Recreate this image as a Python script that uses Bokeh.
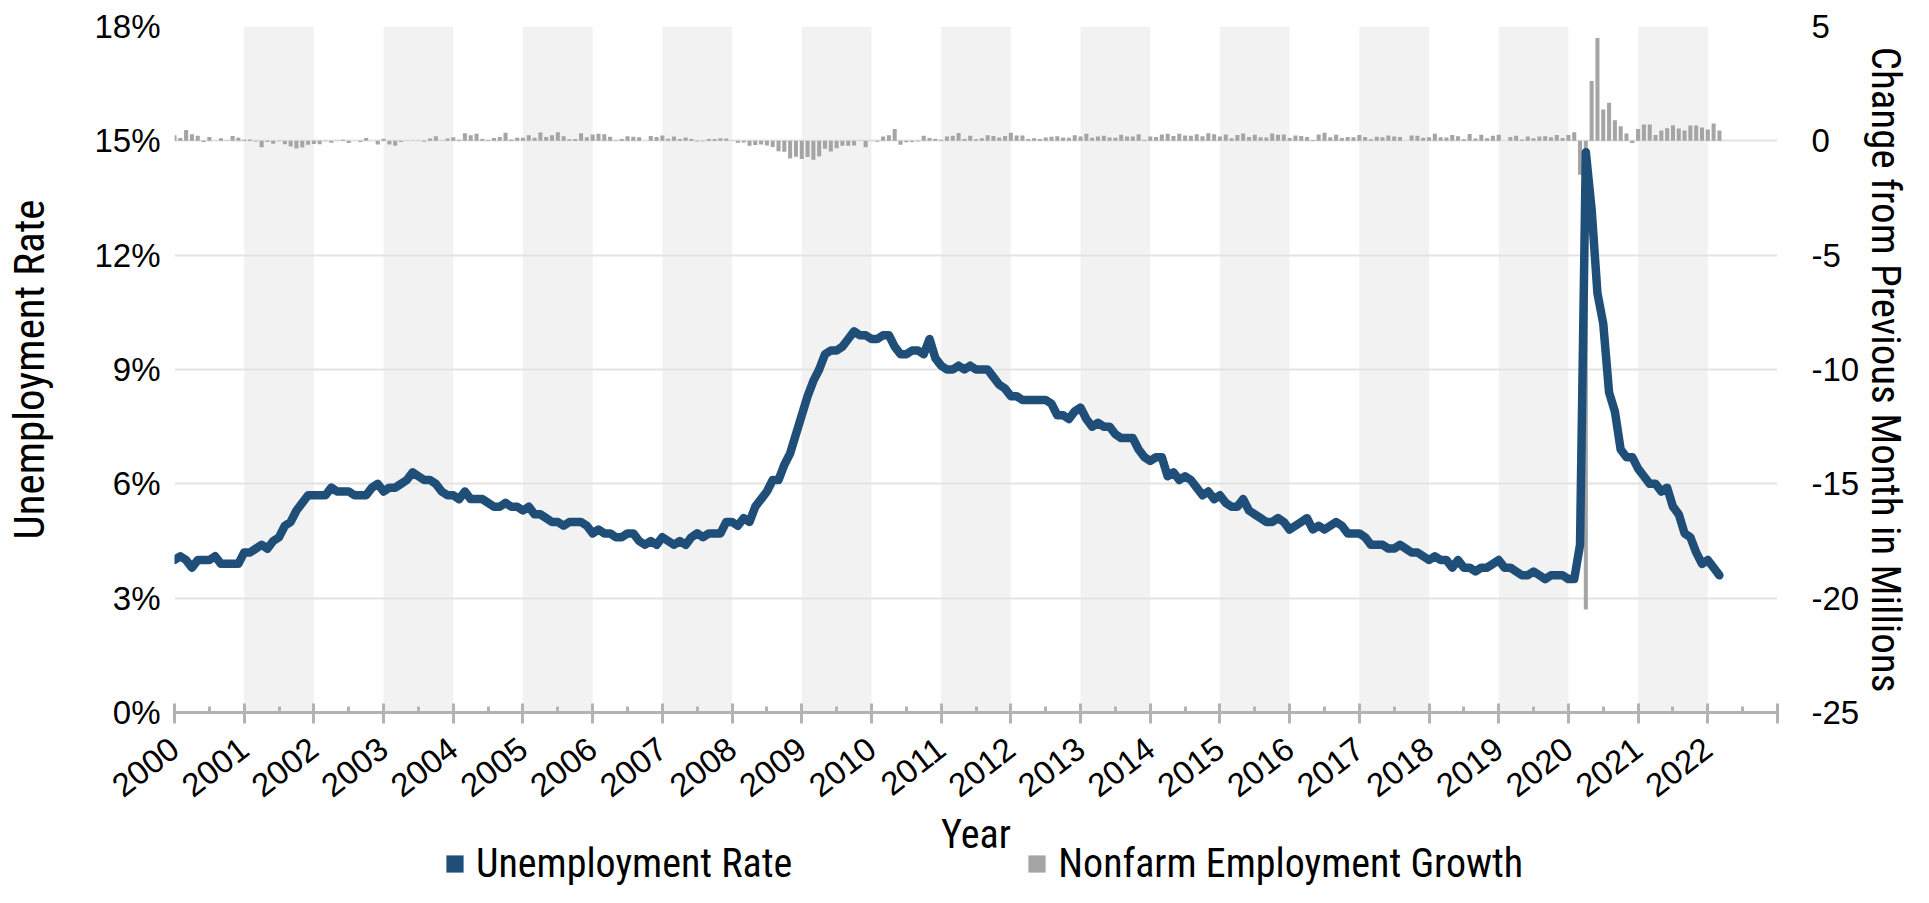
import numpy as np
from bokeh.plotting import figure
from bokeh.layouts import column
from bokeh.models import (Range1d, LinearAxis, FixedTicker, Legend, LegendItem,
                          PrintfTickFormatter, Label)
from bokeh.embed import file_html
from bokeh.resources import INLINE

# ---------------- data ----------------
start_year = 2000
year_ticks = list(range(2000, 2024))
year_labels = [str(y) for y in range(2000, 2023)]
shaded_years = list(range(2001, 2023, 2))
left_ticks = [0, 3, 6, 9, 12, 15, 18]
right_ticks = [-25, -20, -15, -10, -5, 0, 5]

# Unemployment rate (%), monthly Jan 2000 - Mar 2022
unemployment_rate = [
    4.0, 4.1, 4.0, 3.8, 4.0, 4.0, 4.0, 4.1, 3.9, 3.9, 3.9, 3.9,   # 2000
    4.2, 4.2, 4.3, 4.4, 4.3, 4.5, 4.6, 4.9, 5.0, 5.3, 5.5, 5.7,   # 2001
    5.7, 5.7, 5.7, 5.9, 5.8, 5.8, 5.8, 5.7, 5.7, 5.7, 5.9, 6.0,   # 2002
    5.8, 5.9, 5.9, 6.0, 6.1, 6.3, 6.2, 6.1, 6.1, 6.0, 5.8, 5.7,   # 2003
    5.7, 5.6, 5.8, 5.6, 5.6, 5.6, 5.5, 5.4, 5.4, 5.5, 5.4, 5.4,   # 2004
    5.3, 5.4, 5.2, 5.2, 5.1, 5.0, 5.0, 4.9, 5.0, 5.0, 5.0, 4.9,   # 2005
    4.7, 4.8, 4.7, 4.7, 4.6, 4.6, 4.7, 4.7, 4.5, 4.4, 4.5, 4.4,   # 2006
    4.6, 4.5, 4.4, 4.5, 4.4, 4.6, 4.7, 4.6, 4.7, 4.7, 4.7, 5.0,   # 2007
    5.0, 4.9, 5.1, 5.0, 5.4, 5.6, 5.8, 6.1, 6.1, 6.5, 6.8, 7.3,   # 2008
    7.8, 8.3, 8.7, 9.0, 9.4, 9.5, 9.5, 9.6, 9.8, 10.0, 9.9, 9.9,  # 2009
    9.8, 9.8, 9.9, 9.9, 9.6, 9.4, 9.4, 9.5, 9.5, 9.4, 9.8, 9.3,   # 2010
    9.1, 9.0, 9.0, 9.1, 9.0, 9.1, 9.0, 9.0, 9.0, 8.8, 8.6, 8.5,   # 2011
    8.3, 8.3, 8.2, 8.2, 8.2, 8.2, 8.2, 8.1, 7.8, 7.8, 7.7, 7.9,   # 2012
    8.0, 7.7, 7.5, 7.6, 7.5, 7.5, 7.3, 7.2, 7.2, 7.2, 6.9, 6.7,   # 2013
    6.6, 6.7, 6.7, 6.2, 6.3, 6.1, 6.2, 6.1, 5.9, 5.7, 5.8, 5.6,   # 2014
    5.7, 5.5, 5.4, 5.4, 5.6, 5.3, 5.2, 5.1, 5.0, 5.0, 5.1, 5.0,   # 2015
    4.8, 4.9, 5.0, 5.1, 4.8, 4.9, 4.8, 4.9, 5.0, 4.9, 4.7, 4.7,   # 2016
    4.7, 4.6, 4.4, 4.4, 4.4, 4.3, 4.3, 4.4, 4.3, 4.2, 4.2, 4.1,   # 2017
    4.0, 4.1, 4.0, 4.0, 3.8, 4.0, 3.8, 3.8, 3.7, 3.8, 3.8, 3.9,   # 2018
    4.0, 3.8, 3.8, 3.7, 3.6, 3.6, 3.7, 3.6, 3.5, 3.6, 3.6, 3.6,   # 2019
    3.5, 3.5, 4.4, 14.7, 13.2, 11.0, 10.2, 8.4, 7.9, 6.9, 6.7, 6.7,  # 2020
    6.4, 6.2, 6.0, 6.0, 5.8, 5.9, 5.4, 5.2, 4.7, 4.6, 4.2, 3.9,   # 2021
    4.0, 3.8, 3.6,                                                # 2022
]

# Nonfarm payroll change (thousands), monthly Jan 2000 - Mar 2022
payroll_change_k = [
    249, 125, 474, 283, 223, -46, 164, 3, 112, -2, 216, 138,              # 2000
    42, 61, -29, -280, -48, -123, -19, -152, -245, -331, -290, -172,      # 2001
    -137, -150, -22, -84, -6, 47, -94, 2, -56, 124, 8, -155,              # 2002
    90, -162, -213, -48, -10, -2, 20, -41, 101, 203, 15, 106,             # 2003
    159, 44, 332, 248, 310, 79, 36, 121, 163, 349, 63, 135,               # 2004
    134, 239, 134, 362, 169, 243, 371, 196, 65, 85, 337, 159,             # 2005
    281, 314, 283, 183, 23, 79, 205, 181, 158, 5, 208, 171,               # 2006
    236, 90, 188, 79, 143, 75, -34, -20, 81, 83, 116, 98,                 # 2007
    17, -84, -78, -210, -185, -165, -209, -266, -452, -473, -770, -695,   # 2008
    -791, -703, -823, -686, -351, -470, -329, -212, -219, -200, -7, -279, # 2009
    14, -38, 189, 241, 516, -167, -58, -51, -27, 220, 121, 88,            # 2010
    42, 188, 225, 346, 77, 225, 69, 110, 248, 209, 141, 209,              # 2011
    358, 237, 233, 78, 115, 76, 143, 177, 203, 146, 132, 244,             # 2012
    190, 311, 135, 192, 218, 146, 140, 269, 185, 189, 291, 45,            # 2013
    187, 168, 272, 310, 213, 306, 232, 218, 286, 200, 331, 292,           # 2014
    190, 272, 118, 253, 320, 173, 270, 154, 141, 321, 261, 275,           # 2015
    127, 233, 214, 169, 35, 277, 352, 159, 268, 121, 163, 156,            # 2016
    251, 168, 65, 183, 153, 232, 187, 172, 8, 231, 225, 133,              # 2017
    152, 315, 153, 151, 254, 203, 70, 299, 104, 264, 116, 224,            # 2018
    266, 1, 167, 221, 63, 188, 116, 187, 197, 154, 254, 119,              # 2019
    260, 380, -1480, -20500, 2620, 4500, 1370, 1660, 900, 640, 320, -90,  # 2020
    520, 710, 710, 250, 450, 550, 680, 540, 450, 670, 670, 580,           # 2021
    500, 760, 450,                                                        # 2022
]

# ---------------- styling ----------------
BLUE = "#1f4e79"
GREY = "#a5a5a5"
BAND = "#f2f2f2"
GRID = "#e3e3e3"
AXIS = "#b3b3b3"
TICK_FONT = "Liberation Sans"
TITLE_FONT = "'Roboto Condensed', 'Liberation Sans Narrow', 'Liberation Sans'"
TOTAL_W, TOTAL_H = 1913, 887
FRAME_BOTTOM = 714
MAIN_H = FRAME_BOTTOM + 96
STRIP_H = TOTAL_H - MAIN_H

months = np.arange(len(unemployment_rate))
x_month = start_year + months / 12.0
payroll_m = np.array(payroll_change_k) / 1000.0

p = figure(width=TOTAL_W, height=MAIN_H, output_backend="svg", toolbar_location=None,
           x_range=Range1d(year_ticks[0], year_ticks[-1]),
           y_range=Range1d(left_ticks[0], left_ticks[-1]),
           min_border_left=174, min_border_right=135, min_border_top=26,
           min_border_bottom=MAIN_H - FRAME_BOTTOM)
p.extra_y_ranges = {"emp": Range1d(right_ticks[0], right_ticks[-1])}
p.outline_line_color = None
p.background_fill_color = "white"
p.border_fill_color = "white"

band_left = np.array(shaded_years, dtype=float)
p.quad(left=band_left, right=band_left + 1, bottom=left_ticks[0], top=left_ticks[-1],
       fill_color=BAND, line_color=None, level="image")

p.xgrid.grid_line_color = None
p.ygrid.grid_line_color = GRID
p.ygrid.grid_line_width = 2
p.ygrid.ticker = FixedTicker(ticks=left_ticks[1:])

bars = p.vbar(x=x_month, top=payroll_m, bottom=0, width=0.7 / 12,
              y_range_name="emp", fill_color=GREY, line_color=None)

p.line(x_month, unemployment_rate, line_color=BLUE, line_width=8.5,
       line_join="round", line_cap="round")

# x axis (its title "Year" is drawn in the strip below)
xa = p.xaxis[0]
xa.ticker = FixedTicker(ticks=year_ticks,
                        minor_ticks=[y + 0.5 for y in year_ticks[:-1]])
xa.major_label_overrides = {**{y: lab for y, lab in zip(year_ticks, year_labels)},
                            year_ticks[-1]: ""}
xa.major_label_orientation = 0.656
xa.major_label_text_font = TICK_FONT
xa.major_label_text_font_size = "33px"
xa.major_label_text_color = "black"
xa.major_label_standoff = 21
xa.axis_line_color = AXIS
xa.axis_line_width = 3
xa.major_tick_line_color = AXIS
xa.major_tick_line_width = 3
xa.major_tick_in = 9
xa.major_tick_out = 11
xa.minor_tick_line_color = AXIS
xa.minor_tick_line_width = 3
xa.minor_tick_in = 6
xa.minor_tick_out = 0

# left axis
ya = p.yaxis[0]
ya.ticker = FixedTicker(ticks=left_ticks)
ya.formatter = PrintfTickFormatter(format="%d%%")
ya.major_label_text_font = TICK_FONT
ya.major_label_text_font_size = "33px"
ya.major_label_text_color = "black"
ya.major_label_standoff = 8
ya.axis_line_color = None
ya.major_tick_line_color = None
ya.minor_tick_line_color = None
ya.axis_label = "Unemployment Rate"
ya.axis_label_text_font = TITLE_FONT
ya.axis_label_text_font_size = "43px"
ya.axis_label_text_font_style = "normal"
ya.axis_label_text_color = "black"
ya.axis_label_standoff = 37

# right axis
ra = LinearAxis(y_range_name="emp",
                ticker=FixedTicker(ticks=right_ticks),
                formatter=PrintfTickFormatter(format="%d"))
ra.major_label_text_font = TICK_FONT
ra.major_label_text_font_size = "33px"
ra.major_label_text_color = "black"
ra.major_label_standoff = 28
ra.axis_line_color = None
ra.major_tick_line_color = None
ra.minor_tick_line_color = None
ra.axis_label = "Change from Previous Month in Millions"
ra.axis_label_text_font = TITLE_FONT
ra.axis_label_text_font_size = "41px"
ra.axis_label_text_font_style = "normal"
ra.axis_label_text_color = "black"
ra.axis_label_standoff = 0
p.add_layout(ra, "right")

# ---------------- strip below: x-axis title and legend ----------------
lg = figure(width=TOTAL_W, height=STRIP_H, output_backend="svg", toolbar_location=None,
            x_range=Range1d(year_ticks[0], year_ticks[-1]), y_range=Range1d(0, STRIP_H),
            min_border_left=0, min_border_right=0, min_border_top=0, min_border_bottom=0,
            x_axis_location=None, y_axis_location=None)
lg.outline_line_color = None
lg.grid.visible = False
lg.background_fill_color = "white"
lg.border_fill_color = "white"

lg.add_layout(Label(x=(year_ticks[0] + year_ticks[-1]) / 2, y=TOTAL_H - 834,
                    text="Year", text_align="center", text_baseline="middle",
                    text_font=TITLE_FONT, text_font_size="40px",
                    text_color="black"))

# legend swatches (square markers placed outside the visible range)
blue_dummy = lg.scatter(x=[year_ticks[0] - 10], y=[0], marker="square", size=17,
                        fill_color=BLUE, line_color=None)
grey_dummy = lg.scatter(x=[year_ticks[0] - 10], y=[0], marker="square", size=17,
                        fill_color=GREY, line_color=None)
legend = Legend(items=[LegendItem(label="Unemployment Rate", renderers=[blue_dummy]),
                       LegendItem(label="Nonfarm Employment Growth", renderers=[grey_dummy])],
                orientation="horizontal", location=(259, 0),
                glyph_width=43, glyph_height=43, label_standoff=0, spacing=223,
                padding=0, margin=0, border_line_color=None,
                background_fill_alpha=0,
                label_text_font=TITLE_FONT, label_text_font_size="40px",
                label_text_color="black")
lg.add_layout(legend, "center")

open("out.html", "w").write(file_html(column(p, lg), INLINE))
